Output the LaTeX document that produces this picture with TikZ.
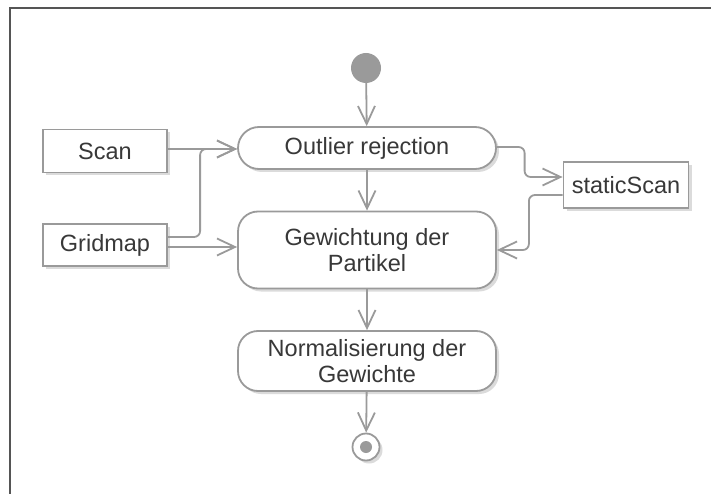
\documentclass[tikz,border=0pt]{standalone}
\usepackage{fontspec}
\setmainfont{Liberation Sans}
\usetikzlibrary{arrows.meta,shadows,calc}

\definecolor{linegray}{HTML}{9A9A9A}
\definecolor{textgray}{HTML}{383838}
\definecolor{framegray}{HTML}{555555}

\tikzset{
  boxshadow/.style={drop shadow={shadow xshift=3pt,shadow yshift=-3pt,fill=black!14,opacity=1}},
  labelfont/.style={font=\fontsize{23.5}{26}\selectfont},
  action/.style={draw=linegray, line width=1.8pt, fill=white, rounded corners=20pt,
    minimum width=258pt, inner sep=0pt, align=center, text=textgray,
    labelfont, boxshadow},
  objbox/.style={draw=linegray, line width=1.8pt, fill=white, rectangle,
    minimum width=124pt, inner sep=0pt, text=textgray,
    labelfont, boxshadow},
  flow/.style={draw=linegray, line width=1.8pt, rounded corners=6pt,
    -{Straight Barb[length=18pt,width=17pt,line width=1.8pt]}},
}

\begin{document}
\begin{tikzpicture}[x=1pt,y=-1pt]
  \useasboundingbox (0,0) rectangle (711,494);
  % outer frame (left and top edges)
  \draw[framegray, line width=2pt] (10,494) -- (10,8) -- (711,8);

  % initial and final nodes
  \node[circle, fill=linegray, minimum size=30pt, inner sep=0pt] (start) at (366,68) {};
  \node[circle, draw=linegray, line width=1.8pt, fill=white, minimum size=27pt, inner sep=0pt, boxshadow] (final) at (366,447) {};
  \node[circle, fill=linegray, minimum size=12pt, inner sep=0pt] (finaldot) at (final.center) {};

  % actions
  \node[action, rounded corners=21pt, minimum height=42pt] (outlier) at (367,148) {Outlier rejection};
  \node[action, minimum height=77pt] (weight) at (367,250) {Gewichtung der\\Partikel};
  \node[action, minimum height=60pt] (norm) at (367,361) {Normalisierung der\\Gewichte};

  % object nodes
  \node[objbox, minimum height=43pt] (scan) at (105,151) {Scan};
  \node[objbox, minimum height=42pt] (grid) at (105,245) {Gridmap};
  \node[objbox, minimum width=125pt, minimum height=46pt] (static) at (626,185) {staticScan};

  % connector end points
  \coordinate (scanOut) at ([yshift=2pt]scan.east);
  \coordinate (gridUp) at ([yshift=8pt]grid.east);
  \coordinate (gridDown) at ([yshift=-2pt]grid.east);
  \coordinate (outIn) at ([yshift=-1pt]outlier.west);
  \coordinate (outOut) at ([yshift=1pt]outlier.east);
  \coordinate (staticIn) at ([yshift=8pt]static.west);
  \coordinate (staticOut) at ([yshift=-10pt]static.west);

  % control flow
  \draw[flow] (start) -- (outlier);
  \draw[flow] (outlier) -- (weight);
  \draw[flow] (weight) -- (norm);
  \draw[flow] (norm) -- (final);

  % object flow
  \draw[flow] (scanOut) -- (outIn);
  \draw[flow] (gridUp) -| ([xshift=-37pt]outIn) -- (outIn);
  \draw[flow] (gridDown) -- (gridDown -| weight.west);
  \draw[flow] (outOut) -| ([xshift=-38pt]staticIn) -- (staticIn);
  \draw[flow] (staticOut) -| ([xshift=32pt]weight.east) -- (weight.east);
\end{tikzpicture}
\end{document}
